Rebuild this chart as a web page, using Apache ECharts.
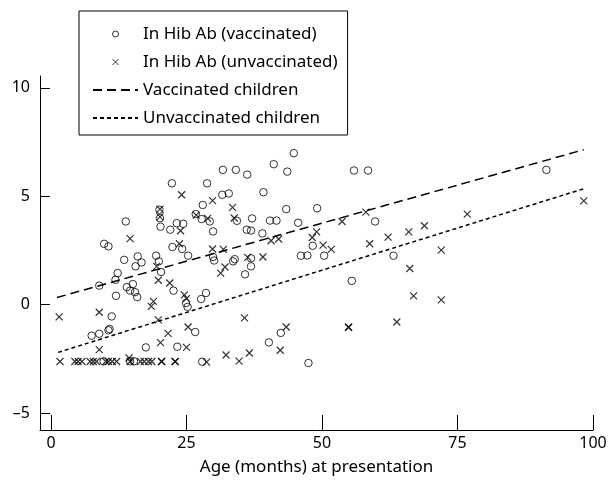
<!DOCTYPE html>
<html>
<head>
<meta charset="utf-8">
<script src="https://cdn.jsdelivr.net/npm/echarts@6/dist/echarts.min.js"></script>
<style>
html,body{margin:0;padding:0;background:#fff;}
#chart{width:612px;height:481px;}
</style>
</head>
<body>
<div id="chart"></div>
<script>
// Vaccinated children: age (months) and ln Hib antibody
var vaccAge = [7.5,8.9,10.6,10.8,11.2,8.9,12.0,11.9,12.3,13.5,9.8,10.6,13.8,14.0,15.1,14.6,15.5,15.9,16.0,16.7,15.6,19.4,19.9,20.3,20.0,20.1,20.2,22.3,22.0,23.2,24.4,22.4,24.2,25.3,22.6,24.9,25.2,27.7,28.6,26.6,23.3,17.5,9.7,14.6,15.3,27.9,28.8,26.7,27.8,29.3,29.9,28.0,31.6,32.8,31.7,34.1,36.2,34.3,36.1,36.9,37.1,39.0,39.2,40.4,41.6,41.1,43.6,44.8,43.4,45.6,49.1,48.3,46.1,47.3,50.4,29.9,30.1,33.9,33.6,36.9,36.9,35.8,55.9,58.5,59.8,55.5,63.2,91.4,42.4,40.2,47.5];
var vaccAb  = [-1.43,-1.34,-1.18,-1.12,-0.54,0.88,0.41,1.15,1.46,2.07,2.81,2.69,3.84,0.81,0.95,0.65,0.58,0.35,2.23,1.95,1.77,2.26,2.0,1.51,4.38,3.99,3.6,5.6,3.46,3.76,3.73,2.66,2.57,2.26,0.65,0.08,-0.1,0.26,0.54,-1.26,-1.94,-1.97,-2.61,-2.61,-2.61,-2.63,5.6,4.18,3.95,3.84,3.38,4.6,5.07,5.13,6.22,6.22,6.0,3.87,3.46,3.42,3.98,3.29,5.19,3.88,3.88,6.48,6.14,6.99,4.41,3.78,4.45,2.72,2.26,2.27,2.26,2.2,2.04,2.1,2.0,2.14,1.77,1.4,6.19,6.19,3.84,1.1,2.26,6.22,-1.3,-1.74,-2.69];
// Unvaccinated children
var unvAge = [1.5,1.66,4.4,5.0,5.7,7.2,7.8,8.4,10.1,10.6,11.3,12.1,14.4,16.5,17.2,18.0,18.6,20.4,20.4,22.9,22.9,28.7,8.9,8.9,19.8,21.6,20.2,25.0,25.3,18.9,18.5,19.8,21.9,24.6,25.0,19.5,14.6,23.7,23.9,20.1,24.1,29.8,33.5,33.8,26.8,28.9,29.8,31.8,32.1,31.3,36.3,39.1,40.6,42.0,48.2,49.0,50.2,51.7,53.7,58.1,58.8,62.2,66.0,68.9,72.0,66.2,66.9,72.0,63.8,76.8,98.3,35.7,43.4,54.9,54.9,42.3,36.6,32.3,34.7,14.6,20.1];
var unvAb  = [-0.56,-2.62,-2.62,-2.62,-2.62,-2.62,-2.62,-2.62,-2.62,-2.62,-2.62,-2.62,-2.46,-2.62,-2.62,-2.62,-2.62,-2.62,-2.62,-2.62,-2.62,-2.65,-0.35,-2.07,-0.7,-1.32,-1.75,-1.97,-1.03,0.15,-0.08,1.13,1.0,0.45,0.28,1.77,3.05,2.81,3.41,4.41,5.07,4.8,4.49,4.0,4.13,3.98,2.57,2.55,1.74,1.46,2.18,2.2,2.95,3.03,3.1,3.36,2.75,2.55,3.84,4.27,2.81,3.12,3.36,3.64,2.52,1.67,0.41,0.22,-0.8,4.18,4.79,-0.61,-1.03,-1.04,-1.04,-2.1,-2.23,-2.32,-2.6,-2.62,4.05];
// Fitted lines (endpoints)
var vaccLineAge = [1.1, 98.3];
var vaccLineAb  = [0.33, 7.15];
var unvLineAge  = [1.3, 98.3];
var unvLineAb   = [-2.2, 5.35];
// Axis ticks
var xTicks = [0, 25, 50, 75, 100];
var yTicks = [-5, 0, 5, 10];
var names = ['In Hib Ab (vaccinated)', 'In Hib Ab (unvaccinated)', 'Vaccinated children', 'Unvaccinated children'];

function zip(a, b) { return a.map(function (v, i) { return [v, b[i]]; }); }

var FONT = 'Noto Sans';
var crossPath = 'path://M0,0L10,10M10,0L0,10';
var openStyle = { color: 'rgba(0,0,0,0)', borderColor: '#000', borderWidth: 1 };
var crossStyle = { color: 'rgba(0,0,0,0)', borderColor: '#000', borderWidth: 1.2 };
var hiddenSym = { color: 'rgba(0,0,0,0)', borderColor: 'rgba(0,0,0,0)', borderWidth: 0, opacity: 0 };

var chart = echarts.init(document.getElementById('chart'), null, { renderer: 'canvas' });
chart.setOption({
  animation: false,
  backgroundColor: '#fff',
  textStyle: { fontFamily: FONT, color: '#000' },
  grid: { left: 40, right: 19, top: 76, bottom: 51, containLabel: false },
  legend: {
    orient: 'vertical',
    left: 79, top: 11,
    padding: [13, 10, 7, 13],
    itemGap: 8,
    itemWidth: 45, itemHeight: 6,
    borderColor: '#000', borderWidth: 1,
    backgroundColor: '#fff',
    textStyle: { fontFamily: FONT, fontSize: 17, color: '#000', lineHeight: 20 },
    data: [
      { name: names[0], icon: 'circle', itemStyle: openStyle },
      { name: names[1], icon: crossPath, itemStyle: openStyle },
      { name: names[2], itemStyle: hiddenSym },
      { name: names[3], itemStyle: hiddenSym }
    ]
  },
  xAxis: {
    type: 'value', min: -2.03, max: 100,
    name: 'Age (months) at presentation', nameLocation: 'middle', nameGap: 29,
    nameTextStyle: { fontFamily: FONT, fontSize: 17, color: '#000' },
    axisLine: { show: true, onZero: false, lineStyle: { color: '#000', width: 1 } },
    axisTick: { show: true, inside: true, length: 15, customValues: xTicks, lineStyle: { color: '#000' } },
    axisLabel: { customValues: xTicks, margin: 5, fontFamily: FONT, fontSize: 16, color: '#000' },
    splitLine: { show: false }
  },
  yAxis: {
    type: 'value', min: -5.78, max: 10.55,
    axisLine: { show: true, onZero: false, lineStyle: { color: '#000', width: 1 } },
    axisTick: { show: true, inside: true, length: 10, customValues: yTicks, lineStyle: { color: '#000' } },
    axisLabel: { customValues: yTicks, margin: 10, fontFamily: FONT, fontSize: 16, color: '#000',
      formatter: function (v) { return String(v).replace('-', '\u2013'); } },
    splitLine: { show: false }
  },
  series: [
    { name: names[0], type: 'scatter', data: zip(vaccAge, vaccAb), symbol: 'circle', symbolSize: 7.5,
      itemStyle: openStyle, z: 3 },
    { name: names[1], type: 'scatter', data: zip(unvAge, unvAb), symbol: crossPath, symbolSize: 7,
      itemStyle: crossStyle, z: 3 },
    { name: names[2], type: 'line', data: zip(vaccLineAge, vaccLineAb), symbol: 'none', showSymbol: false,
      lineStyle: { color: '#000', width: 1.5, type: [9, 5] }, itemStyle: { color: '#000' }, z: 2 },
    { name: names[3], type: 'line', data: zip(unvLineAge, unvLineAb), symbol: 'none', showSymbol: false,
      lineStyle: { color: '#000', width: 1.5, type: [4, 3] }, itemStyle: { color: '#000' }, z: 2 }
  ]
});
</script>
</body>
</html>
